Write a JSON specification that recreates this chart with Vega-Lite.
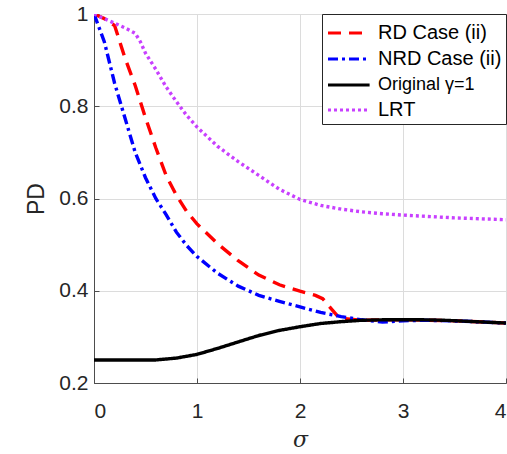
{
  "$schema": "https://vega.github.io/schema/vega-lite/v6.json",
  "autosize": {"type": "none"},
  "padding": {"left": 94, "top": 14, "right": 1, "bottom": 71},
  "width": 412,
  "height": 369,
  "background": "white",
  "config": {
    "font": "Liberation Sans",
    "view": {"stroke": "#4d4d4d", "strokeWidth": 1},
    "axis": {
      "gridColor": "#dcdcdc",
      "gridWidth": 1,
      "domainColor": "#4d4d4d",
      "tickColor": "#4d4d4d",
      "labelColor": "#262626",
      "titleColor": "#262626",
      "labelFont": "Liberation Sans",
      "titleFont": "Liberation Sans",
      "labelFontSize": 21,
      "titleFontWeight": "normal"
    },
    "legend": {
      "title": null,
      "orient": "top-right",
      "offset": 0,
      "fillColor": "white",
      "strokeColor": "#262626",
      "padding": 4,
      "symbolType": "M-1,0H2.2",
      "symbolSize": 676,
      "symbolStrokeWidth": 3.2,
      "labelFontSize": 20,
      "labelFont": "Liberation Sans",
      "labelColor": "#000000",
      "labelOffset": 22,
      "rowPadding": 1
    }
  },
  "data": {
    "values": [
      {"series": "RD Case (ii)", "sigma": 0, "pd": 1},
      {"series": "RD Case (ii)", "sigma": 0.1, "pd": 0.99},
      {"series": "RD Case (ii)", "sigma": 0.2, "pd": 0.975},
      {"series": "RD Case (ii)", "sigma": 0.3, "pd": 0.905},
      {"series": "RD Case (ii)", "sigma": 0.4, "pd": 0.845},
      {"series": "RD Case (ii)", "sigma": 0.5, "pd": 0.775},
      {"series": "RD Case (ii)", "sigma": 0.6, "pd": 0.71},
      {"series": "RD Case (ii)", "sigma": 0.7, "pd": 0.65},
      {"series": "RD Case (ii)", "sigma": 0.8, "pd": 0.607},
      {"series": "RD Case (ii)", "sigma": 0.9, "pd": 0.572},
      {"series": "RD Case (ii)", "sigma": 1.0, "pd": 0.545},
      {"series": "RD Case (ii)", "sigma": 1.2, "pd": 0.502},
      {"series": "RD Case (ii)", "sigma": 1.4, "pd": 0.465},
      {"series": "RD Case (ii)", "sigma": 1.6, "pd": 0.434},
      {"series": "RD Case (ii)", "sigma": 1.8, "pd": 0.413},
      {"series": "RD Case (ii)", "sigma": 2.0, "pd": 0.399},
      {"series": "RD Case (ii)", "sigma": 2.15, "pd": 0.39},
      {"series": "RD Case (ii)", "sigma": 2.22, "pd": 0.383},
      {"series": "RD Case (ii)", "sigma": 2.3, "pd": 0.362},
      {"series": "RD Case (ii)", "sigma": 2.38, "pd": 0.341},
      {"series": "RD Case (ii)", "sigma": 2.6, "pd": 0.336},
      {"series": "RD Case (ii)", "sigma": 2.8, "pd": 0.337},
      {"series": "RD Case (ii)", "sigma": 3.0, "pd": 0.337},
      {"series": "RD Case (ii)", "sigma": 3.5, "pd": 0.335},
      {"series": "RD Case (ii)", "sigma": 4.0, "pd": 0.33},

      {"series": "NRD Case (ii)", "sigma": 0, "pd": 1},
      {"series": "NRD Case (ii)", "sigma": 0.1, "pd": 0.94},
      {"series": "NRD Case (ii)", "sigma": 0.2, "pd": 0.85},
      {"series": "NRD Case (ii)", "sigma": 0.3, "pd": 0.775},
      {"series": "NRD Case (ii)", "sigma": 0.4, "pd": 0.70},
      {"series": "NRD Case (ii)", "sigma": 0.5, "pd": 0.645},
      {"series": "NRD Case (ii)", "sigma": 0.6, "pd": 0.6},
      {"series": "NRD Case (ii)", "sigma": 0.7, "pd": 0.565},
      {"series": "NRD Case (ii)", "sigma": 0.8, "pd": 0.527},
      {"series": "NRD Case (ii)", "sigma": 0.9, "pd": 0.498},
      {"series": "NRD Case (ii)", "sigma": 1.0, "pd": 0.474},
      {"series": "NRD Case (ii)", "sigma": 1.2, "pd": 0.438},
      {"series": "NRD Case (ii)", "sigma": 1.4, "pd": 0.41},
      {"series": "NRD Case (ii)", "sigma": 1.6, "pd": 0.39},
      {"series": "NRD Case (ii)", "sigma": 1.8, "pd": 0.377},
      {"series": "NRD Case (ii)", "sigma": 2.0, "pd": 0.365},
      {"series": "NRD Case (ii)", "sigma": 2.2, "pd": 0.353},
      {"series": "NRD Case (ii)", "sigma": 2.4, "pd": 0.344},
      {"series": "NRD Case (ii)", "sigma": 2.6, "pd": 0.337},
      {"series": "NRD Case (ii)", "sigma": 2.8, "pd": 0.332},
      {"series": "NRD Case (ii)", "sigma": 3.0, "pd": 0.335},
      {"series": "NRD Case (ii)", "sigma": 3.2, "pd": 0.336},
      {"series": "NRD Case (ii)", "sigma": 3.6, "pd": 0.334},
      {"series": "NRD Case (ii)", "sigma": 4.0, "pd": 0.33},

      {"series": "LRT", "sigma": 0, "pd": 1},
      {"series": "LRT", "sigma": 0.1, "pd": 0.99},
      {"series": "LRT", "sigma": 0.2, "pd": 0.98},
      {"series": "LRT", "sigma": 0.3, "pd": 0.97},
      {"series": "LRT", "sigma": 0.4, "pd": 0.958},
      {"series": "LRT", "sigma": 0.45, "pd": 0.94},
      {"series": "LRT", "sigma": 0.5, "pd": 0.915},
      {"series": "LRT", "sigma": 0.6, "pd": 0.88},
      {"series": "LRT", "sigma": 0.7, "pd": 0.842},
      {"series": "LRT", "sigma": 0.8, "pd": 0.81},
      {"series": "LRT", "sigma": 0.9, "pd": 0.78},
      {"series": "LRT", "sigma": 1.0, "pd": 0.755},
      {"series": "LRT", "sigma": 1.2, "pd": 0.713},
      {"series": "LRT", "sigma": 1.4, "pd": 0.68},
      {"series": "LRT", "sigma": 1.6, "pd": 0.65},
      {"series": "LRT", "sigma": 1.8, "pd": 0.62},
      {"series": "LRT", "sigma": 2.0, "pd": 0.598},
      {"series": "LRT", "sigma": 2.2, "pd": 0.585},
      {"series": "LRT", "sigma": 2.4, "pd": 0.577},
      {"series": "LRT", "sigma": 2.6, "pd": 0.571},
      {"series": "LRT", "sigma": 2.8, "pd": 0.567},
      {"series": "LRT", "sigma": 3.0, "pd": 0.564},
      {"series": "LRT", "sigma": 3.5, "pd": 0.558},
      {"series": "LRT", "sigma": 4.0, "pd": 0.554},

      {"series": "Original γ=1", "sigma": 0, "pd": 0.25},
      {"series": "Original γ=1", "sigma": 0.2, "pd": 0.25},
      {"series": "Original γ=1", "sigma": 0.4, "pd": 0.25},
      {"series": "Original γ=1", "sigma": 0.6, "pd": 0.25},
      {"series": "Original γ=1", "sigma": 0.8, "pd": 0.254},
      {"series": "Original γ=1", "sigma": 1.0, "pd": 0.262},
      {"series": "Original γ=1", "sigma": 1.2, "pd": 0.275},
      {"series": "Original γ=1", "sigma": 1.4, "pd": 0.289},
      {"series": "Original γ=1", "sigma": 1.6, "pd": 0.303},
      {"series": "Original γ=1", "sigma": 1.8, "pd": 0.314},
      {"series": "Original γ=1", "sigma": 2.0, "pd": 0.322},
      {"series": "Original γ=1", "sigma": 2.2, "pd": 0.329},
      {"series": "Original γ=1", "sigma": 2.4, "pd": 0.333},
      {"series": "Original γ=1", "sigma": 2.6, "pd": 0.336},
      {"series": "Original γ=1", "sigma": 2.8, "pd": 0.337},
      {"series": "Original γ=1", "sigma": 3.0, "pd": 0.337},
      {"series": "Original γ=1", "sigma": 3.2, "pd": 0.337},
      {"series": "Original γ=1", "sigma": 3.4, "pd": 0.336},
      {"series": "Original γ=1", "sigma": 3.6, "pd": 0.334},
      {"series": "Original γ=1", "sigma": 3.8, "pd": 0.332},
      {"series": "Original γ=1", "sigma": 4.0, "pd": 0.33}
    ]
  },
  "mark": {"type": "line", "strokeWidth": 3.4, "clip": true},
  "encoding": {
    "x": {
      "field": "sigma",
      "type": "quantitative",
      "scale": {"domain": [0, 4], "nice": false},
      "axis": {
        "values": [0, 1, 2, 3, 4],
        "title": "σ",
        "titleFontStyle": "italic",
        "titleFont": "DejaVu Serif",
        "titleFontSize": 22,
        "titlePadding": 8,
        "labelPadding": 22,
        "tickSize": -5,
        "grid": true
      }
    },
    "y": {
      "field": "pd",
      "type": "quantitative",
      "scale": {"domain": [0.2, 1], "nice": false, "zero": false},
      "axis": {
        "values": [0.2, 0.4, 0.6, 0.8, 1],
        "format": ".1~f",
        "title": "PD",
        "titleFontSize": 23,
        "titlePadding": 10,
        "labelPadding": 11,
        "tickSize": -5,
        "grid": true
      }
    },
    "color": {
      "field": "series",
      "type": "nominal",
      "scale": {
        "domain": ["RD Case (ii)", "NRD Case (ii)", "Original γ=1", "LRT"],
        "range": ["#ff0000", "#0000ff", "#000000", "#c840ff"]
      },
      "legend": {
        "encode": {
          "labels": {
            "update": {
              "fontSize": {"signal": "datum.label === 'Original γ=1' ? 18 : 20"}
            }
          }
        }
      }
    },
    "strokeDash": {
      "field": "series",
      "type": "nominal",
      "scale": {
        "domain": ["RD Case (ii)", "NRD Case (ii)", "Original γ=1", "LRT"],
        "range": [[13, 8], [10, 4, 3, 4], [1, 0], [3, 3]]
      },
      "legend": {
        "encode": {
          "labels": {
            "update": {
              "fontSize": {"signal": "datum.label === 'Original γ=1' ? 18 : 20"}
            }
          }
        }
      }
    },
    "order": {"field": "sigma"}
  }
}
